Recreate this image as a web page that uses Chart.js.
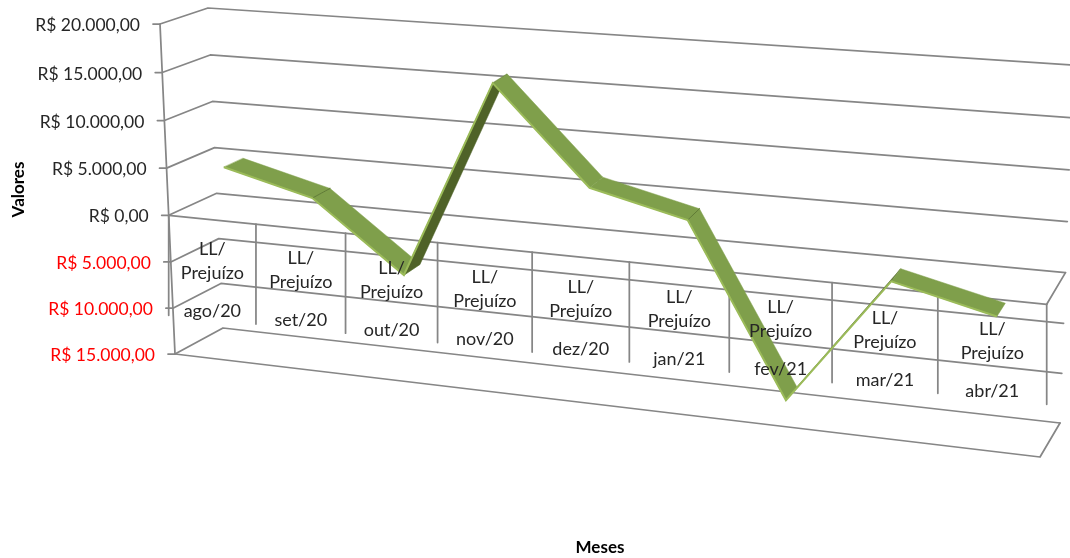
<!DOCTYPE html>
<html>
<head>
<meta charset="utf-8">
<style>
  html, body { margin: 0; padding: 0; background: #fff; }
  canvas { display: block; }
</style>
<script src="https://cdn.jsdelivr.net/npm/chart.js@4"></script>
</head>
<body>
<canvas id="grafico" width="1070" height="558"></canvas>
<script>
const meses = ['ago/20', 'set/20', 'out/20', 'nov/20', 'dez/20', 'jan/21', 'fev/21', 'mar/21', 'abr/21']
const lucro = [4870, 2480, -4690, 15950, 6230, 3890, -13350, -250, -2650]
const serieRotulo = ['LL/', 'Prejuízo']
const eixoMin = -15000
const eixoMax = 20000
const eixoPasso = 5000

// cantos da caixa 3D: superior esq, superior dir, inferior dir, inferior esq
const planoFrente = [[160, 24], [1056, 93], [1040, 457], [175, 354]]
const planoFundo = [[208, 8], [1073, 65], [1060, 423], [223, 328]]
const fitaFrente = 0.3
const fitaFundo = 0.72
const curvaU = 0.018

const fonte = 'Lato, Carlito, Calibri, sans-serif'
const corGrade = '#868686'
const largGrade = 1.75

function homografia(q) {
    let [p0, p1, p2, p3] = q
    let dx1 = p1[0] - p2[0], dx2 = p3[0] - p2[0], sx = p0[0] - p1[0] + p2[0] - p3[0]
    let dy1 = p1[1] - p2[1], dy2 = p3[1] - p2[1], sy = p0[1] - p1[1] + p2[1] - p3[1]
    let det = dx1 * dy2 - dx2 * dy1
    let g = (sx * dy2 - dx2 * sy) / det
    let h = (dx1 * sy - sx * dy1) / det
    return (u, v) => {
        let w = g * u + h * v + 1
        return [
            ((p1[0] - p0[0] + g * p1[0]) * u + (p3[0] - p0[0] + h * p3[0]) * v + p0[0]) / w,
            ((p1[1] - p0[1] + g * p1[1]) * u + (p3[1] - p0[1] + h * p3[1]) * v + p0[1]) / w
        ]
    }
}
const frente = homografia(planoFrente)
const fundo = homografia(planoFundo)

function projeta(chart, pos, valor, prof) {
    let a = chart.chartArea
    let u = (chart.scales.x.getPixelForValue(pos) - a.left) / a.width
    let v = (chart.scales.y.getPixelForValue(valor) - a.top) / a.height
    u = u - curvaU * u * (1 - u)
    let f = frente(u, v), t = fundo(u, v)
    return [f[0] + (t[0] - f[0]) * prof, f[1] + (t[1] - f[1]) * prof]
}

function linha(ctx, pts, cor, larg) {
    ctx.beginPath()
    pts.forEach((p, i) => i ? ctx.lineTo(p[0], p[1]) : ctx.moveTo(p[0], p[1]))
    ctx.strokeStyle = cor
    ctx.lineWidth = larg
    ctx.stroke()
}

const caixa3d = {
    id: 'caixa3d',
    // leva os pontos da serie da escala para a perspectiva
    afterDatasetsUpdate(chart) {
        chart.getDatasetMeta(0).data.forEach((pt, i) => {
            let p = projeta(chart, i, lucro[i], fitaFrente)
            pt.x = p[0]
            pt.y = p[1]
        })
    },
    beforeDatasetsDraw(chart) {
        let ctx = chart.ctx
        let n = meses.length
        let esq = -0.5, dir = n - 0.5
        ctx.save()
        ctx.lineCap = 'round'
        ctx.lineJoin = 'round'

        // grade: parede lateral e parede do fundo
        chart.scales.y.ticks.forEach(t => {
            let a = projeta(chart, esq, t.value, 0)
            let b = projeta(chart, esq, t.value, 1)
            let c = projeta(chart, dir, t.value, 1)
            linha(ctx, [[a[0] - 7, a[1]], a, b, c], corGrade, largGrade)
        })
        // eixo vertical
        linha(ctx, [projeta(chart, esq, eixoMax, 0), projeta(chart, esq, eixoMin, 0)], corGrade, largGrade)
        // borda do zero e do piso
        ;[0, eixoMin].forEach(val => {
            linha(ctx, [projeta(chart, esq, val, 0), projeta(chart, dir, val, 0), projeta(chart, dir, val, 1)], corGrade, largGrade)
        })
        // divisorias das categorias
        for (let i = 0; i <= n; i++) {
            let p = projeta(chart, i - 0.5, 0, 0)
            linha(ctx, [p, [p[0], p[1] + 100]], corGrade, largGrade)
        }

        // faces da fita
        for (let i = 0; i < n - 1; i++) {
            let a = projeta(chart, i, lucro[i], fitaFrente)
            let b = projeta(chart, i + 1, lucro[i + 1], fitaFrente)
            let c = projeta(chart, i + 1, lucro[i + 1], fitaFundo)
            let d = projeta(chart, i, lucro[i], fitaFundo)
            let cor = lucro[i + 1] > lucro[i] ? '#4f6228' : '#7f9f4b'
            ctx.beginPath()
            ctx.moveTo(a[0], a[1])
            ctx.lineTo(b[0], b[1])
            ctx.lineTo(c[0], c[1])
            ctx.lineTo(d[0], d[1])
            ctx.closePath()
            ctx.fillStyle = cor
            ctx.fill()
            ctx.strokeStyle = cor
            ctx.lineWidth = 0.5
            ctx.stroke()
        }
        // dobra da fita onde a queda fica mais forte
        for (let i = 1; i < n - 1; i++) {
            let antes = lucro[i - 1] - lucro[i], depois = lucro[i] - lucro[i + 1]
            if (antes > 0 && depois > antes) {
                linha(ctx, [projeta(chart, i, lucro[i], fitaFrente), projeta(chart, i, lucro[i], fitaFundo)], '#5f7a35', 1)
            }
        }
        ctx.restore()
    },
    afterDatasetsDraw(chart) {
        let ctx = chart.ctx
        ctx.save()
        ctx.textBaseline = 'middle'
        ctx.font = '17.5px ' + fonte

        // rotulos do eixo de valores
        ctx.textAlign = 'right'
        chart.scales.y.ticks.forEach(t => {
            let p = projeta(chart, -0.5, t.value, 0)
            ctx.fillStyle = t.value < 0 ? '#ff0000' : '#262626'
            ctx.fillText(t.label, p[0] - 20, p[1] + 1.5)
        })

        // rotulos das categorias em dois niveis
        ctx.font = '18px ' + fonte
        ctx.textAlign = 'center'
        ctx.fillStyle = '#262626'
        meses.forEach((m, i) => {
            let p0 = projeta(chart, i - 0.5, 0, 0)
            let p1 = projeta(chart, i + 0.5, 0, 0)
            let x = (p0[0] + p1[0]) / 2
            let y = (p0[1] + p1[1]) / 2
            ctx.fillText(serieRotulo[0], x, y + 30)
            ctx.fillText(serieRotulo[1], x, y + 54)
            ctx.fillText(m, x, y + 92)
        })
        ctx.restore()
    }
}

let ctx = document.getElementById('grafico').getContext('2d')
let grafico = new Chart(ctx, {
    type: 'line',
    data: {
        labels: meses,
        datasets: [{
            label: serieRotulo.join(''),
            data: lucro,
            borderColor: '#9bbb59',
            borderWidth: 2,
            pointRadius: 0,
            tension: 0,
            clip: false
        }]
    },
    plugins: [caixa3d],
    options: {
        responsive: false,
        animation: false,
        events: [],
        layout: { padding: { left: 4, right: 30, top: 24, bottom: 0 } },
        plugins: { legend: { display: false }, tooltip: { enabled: false } },
        scales: {
            x: {
                offset: true,
                grid: { display: false },
                border: { display: false },
                ticks: { display: false },
                title: {
                    display: true,
                    text: 'Meses',
                    color: '#000',
                    padding: { top: 1, bottom: 0 },
                    font: { family: fonte, size: 17, weight: 'bold' }
                },
                afterFit(scale) { scale.height = 203 }
            },
            y: {
                min: eixoMin,
                max: eixoMax,
                grid: { display: false },
                border: { display: false },
                ticks: {
                    display: false,
                    stepSize: eixoPasso,
                    callback: v => 'R$ ' + Math.abs(v).toLocaleString('pt-BR', { minimumFractionDigits: 2 })
                },
                title: {
                    display: true,
                    text: 'Valores',
                    color: '#000',
                    font: { family: fonte, size: 17, weight: 'bold' }
                },
                afterFit(scale) { scale.width = 156 }
            }
        }
    }
})
</script>
</body>
</html>
